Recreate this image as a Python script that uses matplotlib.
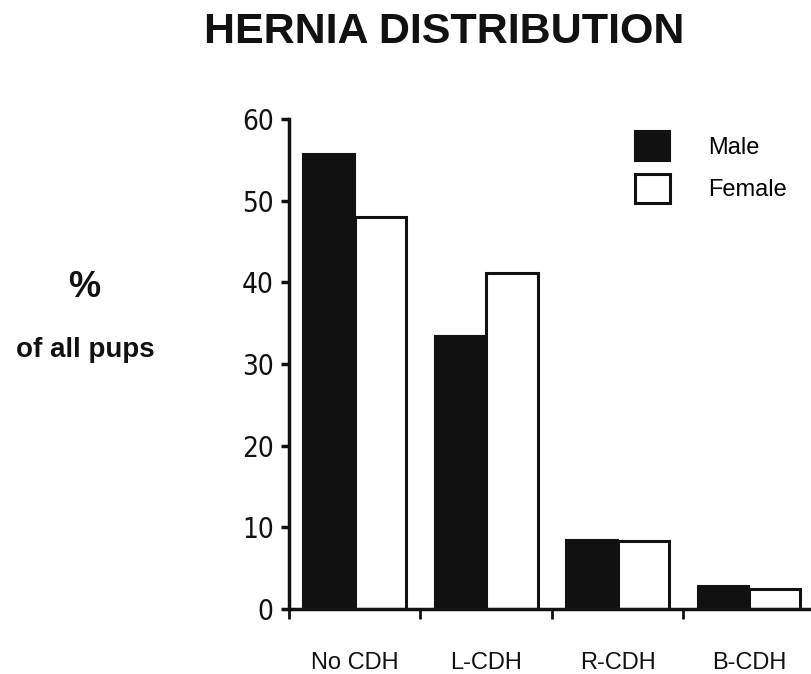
import matplotlib
matplotlib.use('Agg')
import matplotlib.pyplot as plt
import numpy as np
from matplotlib.patches import Patch

# 数据
categories = ["No CDH", "L-CDH", "R-CDH", "B-CDH"]
male = [55.7, 33.4, 8.4, 2.8]
female = [48.0, 41.2, 8.3, 2.4]
series_names = ["Male", "Female"]

W, H = 811, 674
fig = plt.figure(figsize=(W / 100, H / 100), dpi=100)
fig.patch.set_facecolor('white')

# 坐标轴位置(像素)
left_px, right_px = 289, 811
bottom_px, top_px = 609, 119
ax = fig.add_axes([left_px / W, 1 - bottom_px / H,
                   (right_px - left_px) / W, (bottom_px - top_px) / H])

x = np.arange(len(categories))
bw = 0.39
ax.bar(x - bw / 2, male, bw, color='#111111', edgecolor='#111111', linewidth=1.5)
ax.bar(x + bw / 2, female, bw, color='white', edgecolor='#111111', linewidth=2.2)

ax.set_xlim(-0.5, 3.47)
ax.set_ylim(0, 60)

for s in ['top', 'right']:
    ax.spines[s].set_visible(False)
for s in ['left', 'bottom']:
    ax.spines[s].set_linewidth(2.5)
    ax.spines[s].set_color('#111111')

ax.set_yticks(range(0, 61, 10))
ax.tick_params(axis='y', direction='out', length=6, width=2.5, pad=5,
               labelsize=20, colors='#111111')
for lbl in ax.get_yticklabels():
    lbl.set_fontfamily('DejaVu Sans')
    lbl.set_fontstretch('condensed')

ax.set_xticks(x)
ax.set_xticklabels(categories, fontfamily='Liberation Sans', fontsize=17)
ax.set_xticks(np.arange(-0.5, 3.0, 1.0), minor=True)
ax.tick_params(axis='x', which='major', length=0, pad=31, colors='#111111')
ax.tick_params(axis='x', which='minor', direction='out', length=7, width=2,
               colors='#111111')

# 图例
handles = [Patch(facecolor='#111111', edgecolor='#111111', linewidth=1.5),
           Patch(facecolor='white', edgecolor='#111111', linewidth=2.2)]
leg = fig.legend(handles, series_names, loc='upper left',
                 bbox_to_anchor=(635 / W, 1 - 131 / H),
                 bbox_transform=fig.transFigure, frameon=False,
                 prop={'family': 'Liberation Sans', 'size': 17},
                 handlelength=1.48, handleheight=1.55, handletextpad=1.6,
                 labelspacing=0.55, borderpad=0, borderaxespad=0)

# 标题和Y轴标签
fig.text(444 / W, 1 - 32 / H, "HERNIA DISTRIBUTION", ha='center', va='center',
         fontfamily='Liberation Sans', fontweight='bold', fontsize=31, color='#111111')
fig.text(84 / W, 1 - 297 / H, "%", ha='center', va='baseline',
         fontfamily='Liberation Sans', fontweight='bold', fontsize=26, color='#111111')
fig.text(85 / W, 1 - 357 / H, "of all pups", ha='center', va='baseline',
         fontfamily='Liberation Sans', fontweight='bold', fontsize=20, color='#111111')

fig.savefig('out.png', dpi=100)
